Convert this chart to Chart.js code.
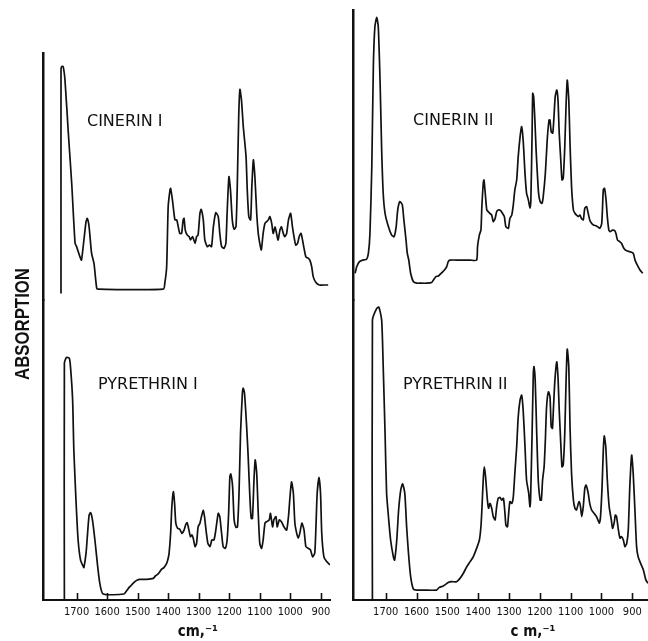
<!DOCTYPE html>
<html><head><meta charset="utf-8">
<script src="https://cdn.jsdelivr.net/npm/chart.js@4.4.1/dist/chart.umd.min.js"></script>
<style>
html,body{margin:0;padding:0;background:#fff;width:648px;height:641px;overflow:hidden;}
#left{position:absolute;left:0;top:0;}
#right{position:absolute;left:340px;top:0;}
</style></head><body>
<canvas id="left" width="340" height="641"></canvas>
<canvas id="right" width="308" height="641"></canvas>
<script>
// ---- tick labels and texts ----
const wavenumberTicks = [1700,1600,1500,1400,1300,1200,1100,1000,900];
const panelNames = ['CINERIN I','CINERIN II','PYRETHRIN I','PYRETHRIN II'];
const unitLabels = ['cm,\u207B\u00B9','c m,\u207B\u00B9'];
const yAxisTitle = 'ABSORPTION';

// ---- Cinerin I (wavenumber cm-1, absorption arbitrary units) ----
const cinerin1Wn = [1751,1751,1749,1744,1738,1727,1716,1705,1700,1689,
1684,1676,1669,1665,1659,1651,1643,1634,1628,1416,
1411,1405,1400,1394,1392,1386,1378,1372,1367,1362,
1356,1351,1348,1344,1338,1331,1327,1320,1312,1307,
1302,1296,1292,1285,1280,1272,1265,1258,1252,1244,
1236,1231,1225,1217,1211,1207,1201,1196,1190,1184,
1178,1174,1169,1165,1160,1154,1145,1141,1136,1130,
1126,1121,1116,1110,1105,1100,1095,1089,1083,1078,
1072,1067,1061,1056,1050,1045,1040,1034,1029,1023,
1018,1012,1006,999,993,986,982,976,971,965,
960,955,949,941,936,930,925,916,905,892,
876];
const cinerin1Abs = [2.2,76.7,77.8,77.8,73.3,55.6,38.9,18.9,17.8,14.4,
13.3,20,26.1,27.2,24.4,15.6,12.2,3.9,3.6,3.6,
5.6,11.1,31.1,36.7,37.2,33.3,26.7,26.7,24.4,22.2,
22.2,26.7,27.2,23.3,21.7,21.1,20,21.1,18.9,21.1,
21.7,28.9,30.2,26.7,20,17.8,18.3,17.8,24.4,29.1,
27.8,22.2,17.8,17.2,18.9,28.9,41.1,36.7,26.7,23.6,
24.4,36.7,61.1,70.2,66.7,57.8,47.8,36.7,27.8,26.7,
37.8,46.7,41.1,28.9,22.2,18.9,16.7,22.2,25.6,26.1,
26.7,27.8,25.6,22.2,24.4,22.2,20,23.3,24.4,22.2,
21.1,22.2,26.7,28.9,24.4,20,18.3,18.9,21.1,22.2,
20,17.2,14.4,13.9,13.3,11.1,7.8,5.8,5,5,
5];

// ---- Cinerin II ----
const cinerin2Wn = [1799,1794,1785,1775,1762,1756,1751,1745,1740,1735,
1729,1724,1718,1713,1708,1702,1691,1681,1673,1666,
1661,1654,1646,1641,1634,1630,1625,1619,1610,1599,
1589,1567,1551,1545,1537,1529,1522,1515,1508,1502,
1497,1491,1459,1426,1405,1402,1396,1391,1388,1383,
1381,1377,1372,1367,1362,1356,1351,1345,1340,1335,
1327,1321,1315,1310,1302,1297,1291,1286,1281,1275,
1270,1264,1259,1254,1248,1243,1237,1232,1229,1225,
1223,1220,1216,1212,1208,1204,1199,1193,1189,1182,
1176,1170,1167,1163,1158,1154,1150,1145,1141,1137,
1132,1128,1124,1119,1115,1111,1106,1102,1097,1091,
1086,1081,1075,1070,1065,1059,1054,1048,1043,1038,
1032,1026,1016,1005,999,994,990,985,981,976,
972,964,957,953,948,940,935,927,918,908,
897,891,884,875,866];
const cinerin2Abs = [8.9,11.1,12.8,13.3,13.6,15.6,22.2,44.4,77.8,91.1,
94.2,91.1,72.2,50,35.6,28.9,24.4,21.7,21.1,24.4,
30,32.8,31.7,26.7,20,15.6,13.3,8.9,6.1,5.6,
5.6,5.6,5.8,6.7,7.8,8,8.7,9.4,10.2,11.1,
12.8,13.3,13.3,13.3,13.3,17.8,21.7,23.3,31.1,39.4,
40,35.6,30,29.4,28.9,28.3,26.1,27.2,29.4,30,
29.8,28.9,27.8,24.4,23.9,27.2,28.3,31.7,36.7,40,
47.8,54.4,57.8,53.3,42.2,35.6,33.3,30.6,33.3,55.6,
68.9,67.8,60,50,42.2,35.6,32.8,32.2,34.4,42.2,
53.3,60,60,56.1,55.6,61.1,67.8,70,66.7,55.6,
46.7,40,40.6,51.1,64.4,73.3,66.7,52.2,37.8,30,
28.9,28.3,27.8,28.3,27.2,26.7,30.6,31.1,28.9,26.7,
25.6,25,24.7,23.9,25.6,36.7,37.2,33.3,27.8,23.3,
22.8,23.3,23.1,22.2,20,19.4,18.9,17.2,16.4,16.1,
15.6,13.3,11.7,10,8.9];

// ---- Pyrethrin I ----
const pyrethrin1Wn = [1740,1740,1733,1724,1720,1713,1709,1702,1695,1687,
1678,1676,1669,1664,1659,1654,1648,1640,1632,1624,
1613,1545,1536,1528,1520,1509,1501,1493,1471,1449,
1442,1433,1422,1414,1405,1400,1397,1392,1388,1383,
1379,1375,1369,1362,1355,1348,1343,1338,1332,1327,
1322,1318,1312,1307,1302,1296,1291,1285,1281,1276,
1270,1263,1257,1250,1244,1236,1231,1225,1220,1213,
1207,1202,1198,1195,1189,1184,1178,1173,1168,1163,
1157,1154,1150,1143,1138,1132,1128,1124,1119,1115,
1110,1105,1100,1094,1089,1083,1078,1069,1065,1058,
1054,1047,1043,1036,1029,1021,1012,1006,1001,996,
990,985,979,974,969,962,955,949,941,934,
927,920,916,912,906,901,897,890,881,870];
const pyrethrin1Abs = [0,78.9,80.9,80.6,77.8,66.7,50,33.3,20,13.3,
11.1,10.8,15.6,22.2,28.3,29.1,26.7,20,12.2,5.6,
2,2,3.1,4.2,5,6.1,6.7,6.9,6.9,7.2,
8,8.7,10.2,10.8,12.2,13.9,15.6,22.2,31.1,36.1,
32.2,25.6,23.9,23.6,22.2,23.3,25,25.8,23.3,21.1,
21.7,20.6,17.8,18.9,24.4,25.6,27.8,30,27.8,23.3,
18.9,17.8,20,20,23.3,28.9,27.8,22.2,17.8,17.2,
20,28.9,41.1,42,37.8,26.7,24.2,24.4,35.6,55.6,
68.9,70.6,68.9,57.8,47.8,33.3,27.2,27.2,40,46.7,
42.2,28.9,18.9,17.2,20,25.6,26.1,26.7,28.9,24.4,
26.7,27.8,24.4,26.7,26.1,24.4,23.3,27.8,34.4,39.4,
35.6,25.6,22.2,20.6,22.2,25.6,23.3,17.8,17.2,16.7,
14.4,15.6,24.4,35.6,40.9,35.6,22.2,14.4,12.8,11.7];

// ---- Pyrethrin II ----
const pyrethrin2Wn = [1743,1743,1729,1722,1713,1708,1702,1697,1691,1684,
1675,1671,1664,1658,1651,1645,1638,1632,1626,1619,
1610,1599,1578,1535,1526,1513,1497,1486,1470,1459,
1448,1437,1426,1416,1405,1396,1391,1388,1383,1380,
1376,1370,1366,1362,1356,1351,1345,1340,1335,1329,
1324,1318,1313,1310,1305,1301,1297,1291,1286,1281,
1275,1270,1264,1259,1254,1248,1243,1236,1232,1230,
1225,1221,1219,1215,1210,1205,1199,1195,1191,1186,
1182,1178,1172,1167,1163,1159,1156,1151,1145,1141,
1137,1132,1128,1124,1119,1115,1111,1106,1102,1097,
1091,1086,1081,1075,1072,1068,1064,1059,1054,1050,
1043,1038,1032,1024,1016,1007,1003,998,994,991,
986,981,975,968,964,959,955,951,945,940,
935,929,924,918,913,908,902,897,891,886,
881,873,864,856,849];
const pyrethrin2Abs = [0,93.3,97.2,97.6,93.3,77.8,55.6,35.6,27.8,20,
14.4,13.3,20,30,36.7,38.7,35.6,24.4,15.6,7.8,
3.6,3.3,3.3,3.3,4.2,4.7,5.8,6.1,6.1,7.2,
8.9,11.1,12.8,14.4,17.2,20,24.4,30,41.1,44.4,
41.1,33.3,30.6,32.2,30.6,27.8,26.7,31.1,33.9,34.2,
33.3,33.9,28.9,25,24.4,28.9,32.8,32.2,34.4,42.2,
51.1,61.1,66.7,68.3,63.3,51.1,40,35.6,31.1,33.3,
55.6,75.6,77.8,73.3,55.6,40,33.3,33.3,40,44.4,
53.3,64.4,69.4,67.8,57.8,57.2,63.3,73.3,79.4,74.4,
63.3,52.2,44.4,45,55.6,72.2,83.6,77.8,57.8,42.2,
33.3,30.6,30,32.2,32.8,31.1,27.8,31.1,37.2,38.3,
35.6,32.2,30,28.9,27.8,25.6,27.8,37.8,50,54.7,
51.1,40,31.1,26.7,23.9,25.6,28.3,27.8,23.3,20.6,
21.1,20,17.8,18.9,23.3,37.8,48.3,42.2,28.9,17.8,
14.4,12.2,10,6.7,5.6];

const toPoints = (wn, ab) => wn.map((x, i) => ({x: x, y: ab[i]}));
const INK = '#111';

const annotPlugin = {
  id: 'annot',
  afterDraw(chart, args, o) {
    const ctx = chart.ctx, xs = chart.scales.x, ca = chart.chartArea;
    const yT = chart.scales.yTop, yB = chart.scales.yBot;
    ctx.save();
    // inward tick marks
    ctx.strokeStyle = INK; ctx.lineWidth = 1.6;
    wavenumberTicks.forEach(v => {
      const px = Math.round(xs.getPixelForValue(v)) + 0.5;
      ctx.beginPath(); ctx.moveTo(px, ca.bottom); ctx.lineTo(px, ca.bottom - 7); ctx.stroke();
    });
    // panel names
    ctx.fillStyle = INK; ctx.textAlign = 'left'; ctx.textBaseline = 'alphabetic';
    ctx.font = '16px "DejaVu Sans", sans-serif';
    ctx.fillText(o.topName, xs.getPixelForValue(o.topAt[0]), yT.getPixelForValue(o.topAt[1]));
    ctx.fillText(o.botName, xs.getPixelForValue(o.botAt[0]), yB.getPixelForValue(o.botAt[1]));
    // unit label
    ctx.textAlign = 'center';
    ctx.font = 'bold 15px "DejaVu Sans Condensed", "DejaVu Sans", sans-serif';
    ctx.fillText(o.unit, xs.getPixelForValue(o.unitAt), ca.bottom + 36);
    // y title
    if (o.yTitle) {
      ctx.translate(23, 324); ctx.rotate(-Math.PI / 2); ctx.scale(0.84, 1);
      ctx.textBaseline = 'middle';
      ctx.font = 'bold 20px "Liberation Sans", Arial, sans-serif';
      ctx.fillText(o.yTitle, 0, 0);
    }
    ctx.restore();
  }
};

function makeChart(id, cfg) {
  const lineStyle = {borderColor: INK, borderWidth: 1.7, pointRadius: 0, tension: 0.2, fill: false};
  const yCommon = {
    type: 'linear', position: 'left', stack: 'col', min: 0,
    afterFit: s => { s.width = 0; },
    ticks: {display: false},
    grid: {drawOnChartArea: false, drawTicks: false},
    border: {display: true, color: INK, width: 2.5}
  };
  return new Chart(document.getElementById(id), {
    type: 'line',
    data: {datasets: [
      Object.assign({data: cfg.top, xAxisID: 'x', yAxisID: 'yTop'}, lineStyle),
      Object.assign({data: cfg.bot, xAxisID: 'x', yAxisID: 'yBot'}, lineStyle)
    ]},
    options: {
      responsive: false, animation: false, devicePixelRatio: 1, events: [],
      layout: {padding: cfg.padding},
      scales: {
        x: {
          type: 'linear', reverse: true, min: cfg.xMin, max: cfg.xMax,
          afterBuildTicks: s => { s.ticks = wavenumberTicks.map(v => ({value: v})); },
          afterFit: s => { s.height = 41; },
          grid: {drawOnChartArea: false, drawTicks: false},
          border: {display: true, color: INK, width: 2},
          ticks: {color: INK, autoSkip: false, maxRotation: 0, padding: 6,
                  font: {family: '"DejaVu Sans Condensed", sans-serif', size: 11},
                  callback: v => String(v)}
        },
        yBot: Object.assign({}, yCommon, {max: 100, stackWeight: 300}),
        yTop: Object.assign({}, yCommon, {max: cfg.topMax, stackWeight: cfg.topWeight})
      },
      plugins: {legend: {display: false}, tooltip: {enabled: false}, annot: cfg.annot}
    },
    plugins: [annotPlugin]
  });
}

makeChart('left', {
  top: toPoints(cinerin1Wn, cinerin1Abs), bot: toPoints(pyrethrin1Wn, pyrethrin1Abs),
  padding: {left: 43, right: 10, top: 53, bottom: 0},
  xMin: 870, xMax: 1810, topMax: 82.33, topWeight: 247,
  annot: {topName: panelNames[0], botName: panelNames[2], topAt: [1666, 58], botAt: [1630, 70.3],
          unit: unitLabels[0], unitAt: 1303, yTitle: yAxisTitle}
});
makeChart('right', {
  top: toPoints(cinerin2Wn, cinerin2Abs), bot: toPoints(pyrethrin2Wn, pyrethrin2Abs),
  padding: {left: 13, right: 0, top: 10, bottom: 0},
  xMin: 849, xMax: 1806, topMax: 96.67, topWeight: 290,
  annot: {topName: panelNames[1], botName: panelNames[3], topAt: [1611, 58.3], botAt: [1644, 70.3],
          unit: unitLabels[1], unitAt: 1222, yTitle: null}
});
</script>
</body></html>
